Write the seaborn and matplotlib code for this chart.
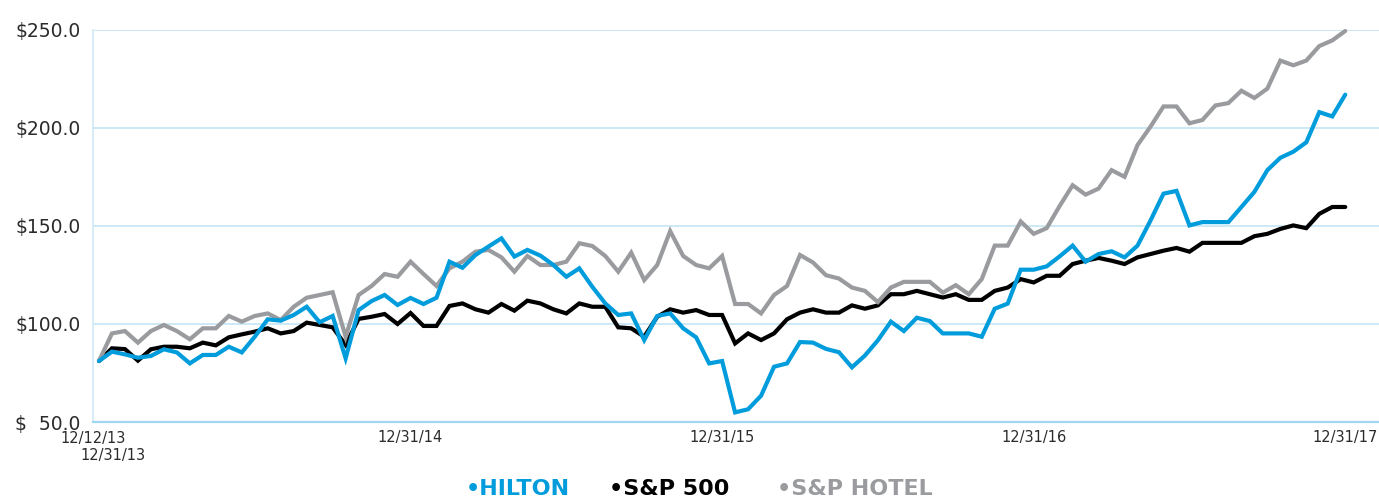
import matplotlib
matplotlib.use("Agg")
import matplotlib.pyplot as plt
import seaborn as sns
import pandas as pd
import numpy as np

# ---- data (semi-monthly points, 12/12/13 .. 12/31/17) ----
hilton = [81.1, 85.9, 84.5, 82.8, 83.7, 87.1, 85.5, 79.9, 84.2, 84.2,
          88.4, 85.5, 93.5, 102.4, 101.7, 104.6, 108.8, 100.9, 104.1, 82.5,
          107.1, 111.7, 114.8, 109.7, 113.3, 110.2, 113.4, 131.8, 128.7, 135.2,
          139.5, 143.7, 134.4, 137.8, 134.9, 130.1, 124.1, 128.4, 119.0, 110.5,
          104.6, 105.4, 91.8, 104.1, 105.4, 97.8, 93.2, 79.9, 81.1, 54.9,
          56.5, 63.4, 78.2, 79.9, 90.8, 90.5, 87.3, 85.6, 77.9, 83.9,
          91.7, 101.2, 96.4, 103.2, 101.5, 95.2, 95.2, 95.2, 93.5, 107.8,
          110.4, 127.7, 127.7, 129.4, 134.5, 140.0, 131.8, 135.7, 137.1, 134.0,
          140.0, 152.8, 166.5, 167.9, 150.3, 152.0, 152.0, 152.0, 159.7, 167.4,
          178.5, 184.8, 187.9, 192.7, 208.1, 205.9, 217.0]
sp500 = [81.1, 87.6, 87.2, 81.3, 87.1, 88.4, 88.4, 87.6, 90.5, 89.1,
         93.2, 94.7, 96.1, 97.8, 95.2, 96.4, 100.7, 99.5, 98.3, 89.3,
         102.6, 103.7, 105.1, 100.0, 105.6, 99.0, 99.0, 109.2, 110.5, 107.5,
         105.8, 110.2, 106.8, 111.9, 110.5, 107.5, 105.4, 110.5, 108.8, 108.8,
         98.3, 97.8, 93.5, 103.7, 107.5, 105.8, 107.1, 104.6, 104.6, 90.1,
         95.2, 91.8, 95.2, 102.4, 105.8, 107.5, 105.8, 105.8, 109.5, 107.8,
         109.5, 115.2, 115.2, 116.9, 115.2, 113.5, 115.2, 112.3, 112.3, 116.9,
         118.6, 122.9, 121.2, 124.6, 124.6, 130.6, 132.3, 133.7, 132.3, 130.6,
         134.0, 135.7, 137.4, 138.8, 136.9, 141.4, 141.4, 141.4, 141.4, 144.8,
         146.0, 148.5, 150.3, 148.9, 156.2, 159.7, 159.7]
sp_hotel = [81.1, 95.2, 96.4, 90.5, 96.4, 99.5, 96.4, 92.2, 97.8, 97.8,
            104.1, 101.2, 104.1, 105.4, 102.0, 108.8, 113.4, 114.8, 116.2, 93.5,
            114.8, 119.4, 125.5, 124.1, 131.8, 125.5, 119.4, 128.4, 131.8, 136.9,
            137.8, 134.0, 126.7, 134.7, 130.1, 130.1, 131.8, 141.2, 139.8, 134.7,
            126.7, 136.4, 122.4, 130.1, 147.4, 134.7, 130.1, 128.4, 134.7, 110.2,
            110.2, 105.4, 114.8, 119.4, 135.2, 131.4, 124.9, 123.2, 118.6, 116.9,
            111.2, 118.6, 121.5, 121.5, 121.5, 116.0, 119.8, 115.2, 122.9, 140.0,
            140.0, 152.3, 146.0, 148.9, 160.2, 170.8, 166.0, 169.1, 178.5, 175.1,
            191.3, 200.7, 211.0, 211.0, 202.4, 204.1, 211.5, 212.7, 219.0, 215.3,
            220.1, 234.4, 232.0, 234.4, 241.8, 244.7, 249.5]

series_names = ["S&P 500", "S&P HOTEL", "HILTON"]
legend_labels = ["\u2022HILTON", "\u2022S&P 500", "\u2022S&P HOTEL"]
x_tick_pos = [24, 48, 72, 96]
x_tick_labels = ["12/31/14", "12/31/15", "12/31/16", "12/31/17"]
y_ticks = [50, 100, 150, 200, 250]
y_tick_labels = ["$  50.0", "$100.0", "$150.0", "$200.0", "$250.0"]

BLUE = "#009cdc"
BLACK = "#000000"
GRAY = "#9a9b9e"
palette = {"HILTON": BLUE, "S&P 500": BLACK, "S&P HOTEL": GRAY}

n = len(hilton)
df = pd.concat([
    pd.DataFrame({"idx": np.arange(n), "value": sp500, "series": "S&P 500"}),
    pd.DataFrame({"idx": np.arange(n), "value": sp_hotel, "series": "S&P HOTEL"}),
    pd.DataFrame({"idx": np.arange(n), "value": hilton, "series": "HILTON"}),
], ignore_index=True)

sns.set_style("white")
plt.rcParams["font.family"] = ["DejaVu Sans"]

W, H = 1379, 498
fig = plt.figure(figsize=(W / 100, H / 100), dpi=100)
ax = fig.add_axes([93 / W, 1 - 422 / H, (W - 93) / W, (422 - 30) / H])

sns.lineplot(data=df, x="idx", y="value", hue="series", hue_order=series_names,
             palette=palette, linewidth=3.0, ax=ax, legend=False,
             estimator=None, sort=False)
for ln in ax.get_lines():
    ln.set_clip_on(False)
    ln.set_solid_joinstyle("miter")

ax.set_xlim(-0.46, 98.6)
ax.set_ylim(50, 250)
ax.set_xlabel("")
ax.set_ylabel("")

ax.set_yticks(y_ticks)
ax.set_yticklabels(y_tick_labels)
ax.yaxis.grid(True, color="#c4e5f4", linewidth=1.2)
ax.set_axisbelow(True)

ax.set_xticks(x_tick_pos)
ax.set_xticklabels(x_tick_labels)
ax.tick_params(axis="x", direction="in", length=8, width=2.2, color="#9fd6f0",
               pad=6, labelsize=10.5, labelcolor="#2b2b2b")
ax.tick_params(axis="y", length=0, pad=9, labelsize=13.5, labelcolor="#2b2b2b")

for s in ["top", "right"]:
    ax.spines[s].set_visible(False)
ax.spines["left"].set_color("#d3ecf8")
ax.spines["left"].set_linewidth(1.3)
ax.spines["bottom"].set_color("#9fd6f0")
ax.spines["bottom"].set_linewidth(1.6)

trans = ax.get_xaxis_transform()
ax.text(-0.46, -0.022, "12/12/13", transform=trans, ha="center", va="top",
        fontsize=10.5, color="#2b2b2b")
ax.text(1.08, -0.067, "12/31/13", transform=trans, ha="center", va="top",
        fontsize=10.5, color="#2b2b2b")

leg_x = [518 / W, 669 / W, 855 / W]
leg_colors = [BLUE, BLACK, GRAY]
for lx, lab, col in zip(leg_x, legend_labels, leg_colors):
    fig.text(lx, 1 - 495 / H, lab, ha="center", va="baseline", fontsize=16,
             fontweight="bold", color=col)

fig.savefig("out.png", dpi=100)
